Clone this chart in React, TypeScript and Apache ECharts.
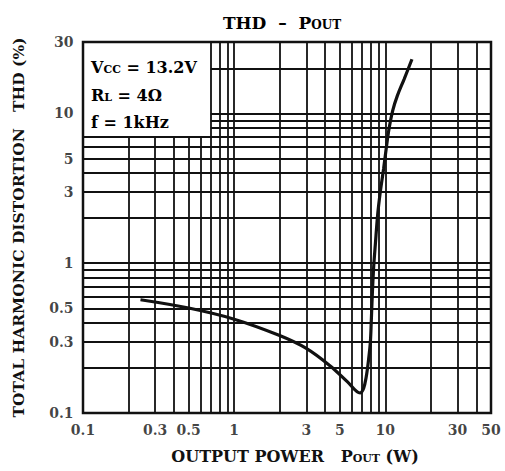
import React, { useEffect, useRef } from "react";
import * as echarts from "echarts";

// Curve (output power in W, THD in %)
const pOut = [0.24, 0.5, 1.0, 2.0, 3.0, 4.3, 5.6, 6.8, 7.18, 7.48, 7.75, 7.96, 8.07, 8.2, 8.37, 8.59, 8.9, 9.27, 9.75, 10.2, 10.6, 11.2, 12.0, 13.3, 15.0];
const thd = [0.57, 0.502, 0.423, 0.329, 0.27, 0.207, 0.162, 0.136, 0.146, 0.175, 0.228, 0.297, 0.406, 0.617, 0.94, 1.34, 2.12, 3.02, 4.31, 6.14, 8.0, 10.5, 13.1, 16.9, 23.0];

const xTickLabels = [0.1, 0.3, 0.5, 1, 3, 5, 10, 30, 50];
const yTickLabels = [0.1, 0.3, 0.5, 1, 3, 5, 10, 30];

const xGridValues = [0.2, 0.3, 0.4, 0.5, 0.6, 0.7, 0.8, 0.9, 1, 2, 3, 4, 5, 6, 7, 8, 9, 10, 20, 30, 40];
const yGridValues = [0.2, 0.3, 0.4, 0.5, 0.6, 0.7, 0.8, 0.9, 1, 2, 3, 4, 5, 6, 7, 8, 9, 10, 20];

const xMin = 0.1, xMax = 50, yMin = 0.1, yMax = 30;
// conditions box (covers the grid in the upper-left corner)
const boxX = 0.7, boxY = 7;

const FONT = '"DejaVu Serif", serif';
const INK = "#111";

export default function App() {
  const ref = useRef<HTMLDivElement>(null);
  useEffect(() => {
    if (!ref.current) return;
    const chart = echarts.init(ref.current, undefined, { renderer: "svg" });

    const gridLines: any[] = [];
    xGridValues.forEach((v) => {
      gridLines.push([{ coord: [v, yMin] }, { coord: [v, v < boxX ? boxY : yMax] }]);
    });
    yGridValues.forEach((v) => {
      gridLines.push([{ coord: [v > boxY ? boxX : xMin, v] }, { coord: [xMax, v] }]);
    });

    const mk = (size: number, lh: number) => ({ fontFamily: FONT, fontWeight: "bold", fontSize: size, lineHeight: lh, verticalAlign: "bottom", color: INK });
    const richBox = { a: mk(16, 22), s: mk(11, 10) };
    const richTitle = { a: mk(17, 22), s: mk(12, 10) };

    const option: any = {
      animation: false,
      backgroundColor: "#fff",
      grid: { left: 83, right: 14, top: 42, bottom: 58, show: true, borderColor: INK, borderWidth: 2.5, backgroundColor: "transparent" },
      xAxis: {
        type: "log",
        logBase: 10,
        min: xMin,
        max: xMax,
        axisLine: { show: false },
        axisTick: { show: false },
        axisLabel: { show: false },
        splitLine: { show: false },
        name: "{a|OUTPUT POWER   P}{s|OUT}{a| (W)}",
        nameLocation: "middle",
        nameGap: 29,
        nameTextStyle: { padding: [0, 0, 0, 16], rich: { a: mk(16, 22), s: mk(11, 10) } },
      },
      yAxis: {
        type: "log",
        logBase: 10,
        min: yMin,
        max: yMax,
        axisLine: { show: false },
        axisTick: { show: false },
        axisLabel: { show: false },
        splitLine: { show: false },
        name: "TOTAL HARMONIC DISTORTION   THD (%)",
        nameLocation: "middle",
        nameGap: 57,
        nameRotate: 90,
        nameTextStyle: { fontFamily: FONT, fontWeight: "bold", fontSize: 15.5, color: INK, padding: [0, 0, 0, 0] },
      },
      graphic: [
        {
          type: "text",
          x: 282,
          y: 20,
          style: {
            text: "{a|THD  –  P}{s|OUT}",
            rich: richTitle,
            align: "center",
            verticalAlign: "middle",
          },
        },
        {
          type: "text",
          x: 91,
          y: 64,
          style: { text: "{a|V}{s|CC}{a| = 13.2V}", rich: richBox, align: "left", verticalAlign: "middle" },
        },
        {
          type: "text",
          x: 91,
          y: 92,
          style: { text: "{a|R}{s|L}{a| = 4Ω}", rich: richBox, align: "left", verticalAlign: "middle" },
        },
        {
          type: "text",
          x: 91,
          y: 119,
          style: { text: "{a|f = 1kHz}", rich: richBox, align: "left", verticalAlign: "middle" },
        },
      ],
      series: [
        {
          type: "line",
          data: [],
          z: 1,
          silent: true,
          markLine: {
            silent: true,
            symbol: ["none", "none"],
            animation: false,
            label: { show: false },
            lineStyle: { color: INK, width: 1.8, type: "solid" },
            emphasis: { disabled: true },
            data: gridLines,
          },
        },
        {
          type: "line",
          z: 5,
          data: pOut.map((x, i) => [x, thd[i]]),
          showSymbol: false,
          symbol: "none",
          smooth: 0.35,
          lineStyle: { color: INK, width: 3.2 },
        },
        {
          type: "scatter",
          z: 6,
          silent: true,
          clip: false,
          symbolSize: 1,
          itemStyle: { color: "rgba(0,0,0,0)" },
          data: xTickLabels.map((v) => [v, yMin]),
          label: {
            show: true,
            position: "bottom",
            distance: 9,
            formatter: (p: any) => String(p.value[0]),
            fontFamily: FONT,
            fontWeight: "bold",
            fontSize: 14,
            color: INK,
          },
        },
        {
          type: "scatter",
          z: 6,
          silent: true,
          clip: false,
          symbolSize: 1,
          itemStyle: { color: "rgba(0,0,0,0)" },
          data: yTickLabels.map((v) => [xMin, v]),
          label: {
            show: true,
            position: "left",
            distance: 9,
            formatter: (p: any) => String(p.value[1]),
            fontFamily: FONT,
            fontWeight: "bold",
            fontSize: 14,
            color: INK,
          },
        },
      ],
    };
    chart.setOption(option);
    return () => chart.dispose();
  }, []);

  return <div ref={ref} style={{ position: "fixed", left: 0, top: 0, width: 505, height: 471 }} />;
}
